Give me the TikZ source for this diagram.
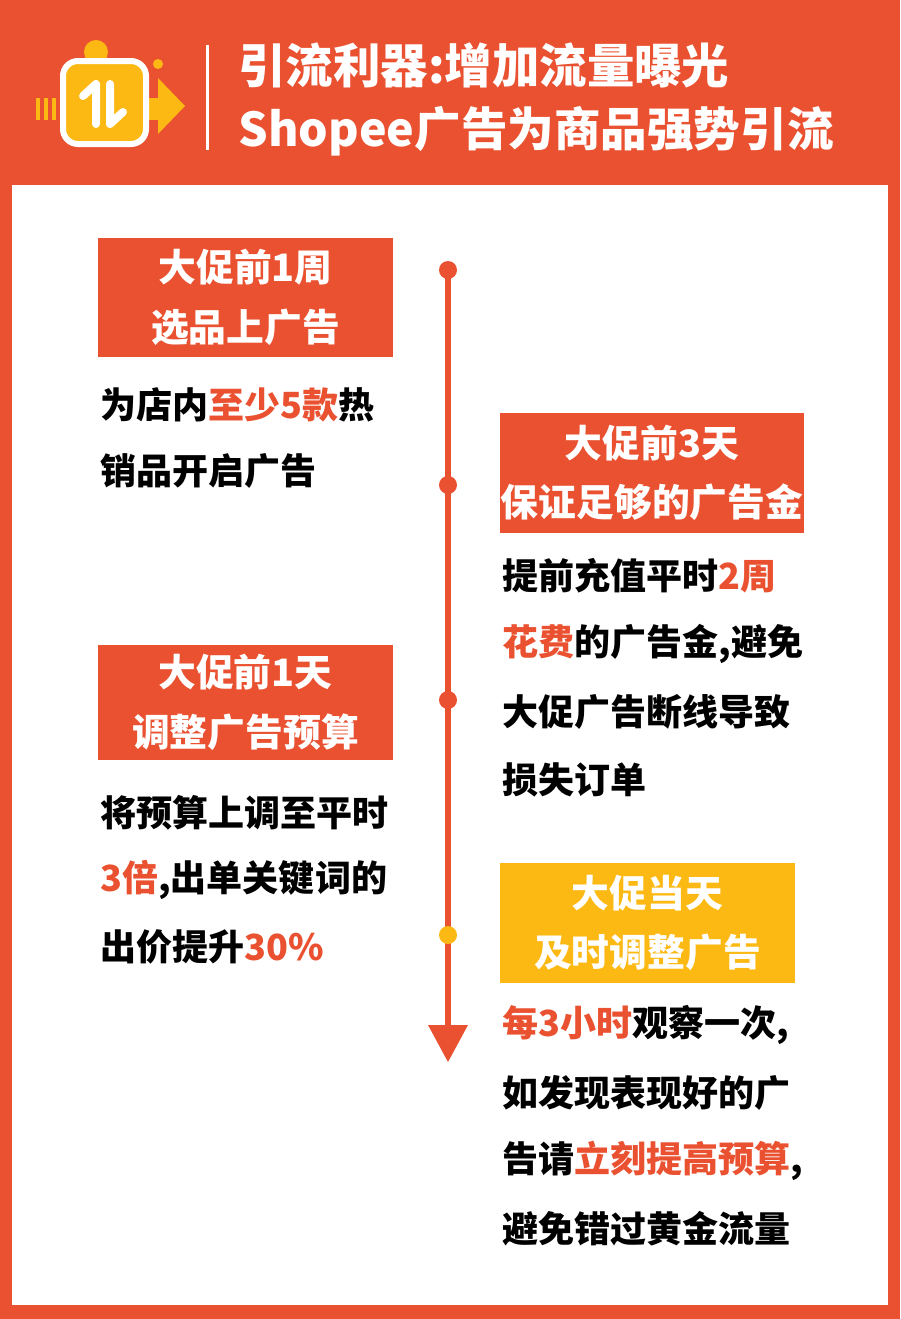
\documentclass[tikz,border=0pt]{standalone}
\usepackage{fontspec}
\setmainfont{Noto Sans CJK SC}
\usetikzlibrary{positioning}
\definecolor{brandred}{HTML}{EA5130}
\definecolor{brandyel}{HTML}{FDB913}
\tikzset{
  stage/.style={fill=#1,text=white,font=\fontsize{21.5}{34}\selectfont\bfseries,align=center,inner sep=0pt},
  body/.style={anchor=west,font=\fontsize{20.5}{24}\selectfont\bfseries,inner sep=0pt},
  dot/.style={circle,fill=#1,minimum size=0.36cm,inner sep=0pt},
}
\newcommand{\hl}[1]{\textcolor{brandred}{#1}}
\begin{document}
\begin{tikzpicture}[x=0.02cm,y=-0.02cm]
\fill[brandred] (0,0) rectangle (900,1319);
\fill[white] (12,185) rectangle (888,1305);
% header icon
\foreach \bx in {36,44,52} \fill[brandyel] (\bx,98) rectangle +(4,22);
\fill[brandyel] (60,98) rectangle (158,120);
\fill[brandyel] (158,78) -- (185,106) -- (158,134) -- cycle;
\fill[brandyel] (96,52) circle (12);
\fill[brandyel] (158,64) circle (5);
\draw[white,line width=1.2mm,fill=brandyel,rounded corners=3mm] (63,61) rectangle (146,144);
\draw[white,line width=1.6mm,line cap=round,line join=round] (83,96) -- (96,84) -- (96,124);
\draw[white,line width=1.6mm,line cap=round,line join=round] (110,84) -- (110,124) -- (123,112);
\draw[white,line width=0.6mm] (207,45) -- (207,150);
\node[anchor=west,text=white,font=\fontsize{27}{30}\selectfont\bfseries,inner sep=0pt] (title1) at (238,65) {引流利器:增加流量曝光};
\node[anchor=west,text=white,font=\fontsize{26.5}{30}\selectfont\bfseries,inner sep=0pt] (title2) at (238,131) {Shopee广告为商品强势引流};
% timeline
\coordinate (top) at (448,270);
\coordinate (tip) at (448,1062);
\draw[brandred,line width=1.2mm] (top) -- (448,1030);
\fill[brandred] (428,1025) -- (468,1025) -- (tip) -- cycle;
\node[dot=brandred] (d1) at (448,270) {};
\node[dot=brandred] (d2) at (448,485) {};
\node[dot=brandred] (d3) at (448,700) {};
\node[dot=brandyel] (d4) at (448,935) {};
% stages
\node[stage=brandred,minimum width=5.9cm,minimum height=2.38cm] (s1) at (245.5,297.5) {大促前1周\\选品上广告};
\node[stage=brandred,minimum width=6.08cm,minimum height=2.4cm] (s2) at (652,473) {大促前3天\\保证足够的广告金};
\node[stage=brandred,minimum width=5.9cm,minimum height=2.3cm] (s3) at (245.5,702.5) {大促前1天\\调整广告预算};
\node[stage=brandyel,minimum width=5.9cm,minimum height=2.4cm] (s4) at (647.5,923) {大促当天\\及时调整广告};
% texts
\node[body] (t1a) at (100,405) {为店内\hl{至少5款}热};
\node[body] (t1b) at (100,471) {销品开启广告};
\node[body] (t2a) at (502,576) {提前充值平时\hl{2周}};
\node[body] (t2b) at (502,644) {\hl{花费}的广告金,避免};
\node[body] (t2c) at (502,712) {大促广告断线导致};
\node[body] (t2d) at (502,780) {损失订单};
\node[body] (t3a) at (100,813) {将预算上调至平时};
\node[body] (t3b) at (100,880) {\hl{3倍},出单关键词的};
\node[body] (t3c) at (100,947) {出价提升\hl{30\%}};
\node[body] (t4a) at (502,1025) {\hl{每3小时}观察一次,};
\node[body] (t4b) at (502,1093) {如发现表现好的广};
\node[body] (t4c) at (502,1161) {告请\hl{立刻提高预算},};
\node[body] (t4d) at (502,1229) {避免错过黄金流量};
\end{tikzpicture}
\end{document}
